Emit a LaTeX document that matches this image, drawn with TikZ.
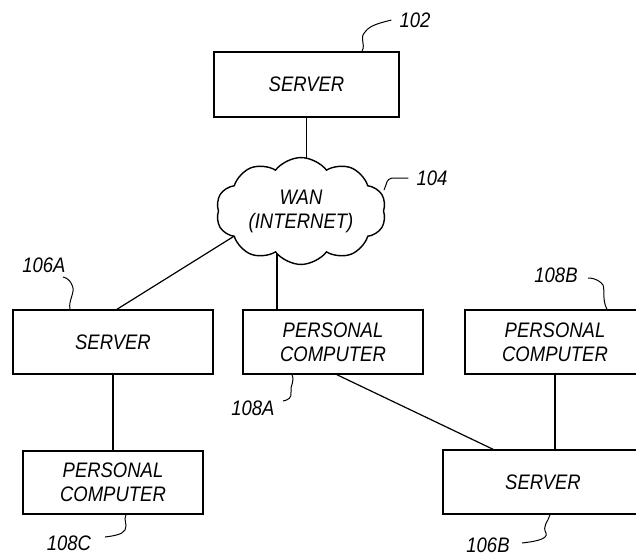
\documentclass[tikz,border=0pt]{standalone}
\usepackage{fontspec}
\setmainfont{Liberation Sans}[FakeStretch=0.88]
\usetikzlibrary{shapes.symbols}
\pgfdeclarelayer{background}
\pgfsetlayers{background,main}
\begin{document}
\begin{tikzpicture}[x=1pt,y=-1pt,
  every node/.style={font=\fontsize{21}{24}\selectfont\itshape},
  box/.style={draw,line width=1.5pt,align=center,inner sep=0pt},
  link/.style={line width=1.2pt},
  lead/.style={line width=1pt},
  lbl/.style={inner sep=0pt}]
\useasboundingbox (0,0) rectangle (636,558);
\clip (0,0) rectangle (636,558);
% boxes
\node[box,minimum width=185pt,minimum height=65pt] (s102) at (306.5,84.5) {SERVER};
\node[box,minimum width=200pt,minimum height=64pt] (s106A) at (113,342) {SERVER};
\node[box,minimum width=180pt,minimum height=64pt] (pc108A) at (333,342) {PERSONAL\\COMPUTER};
\node[box,minimum width=180pt,minimum height=64pt] (pc108B) at (555,342) {PERSONAL\\COMPUTER};
\node[box,minimum width=180pt,minimum height=63pt] (pc108C) at (113,482.5) {PERSONAL\\COMPUTER};
\node[box,minimum width=200pt,minimum height=64pt] (s106B) at (543,482) {SERVER};
% cloud
\node[cloud,draw,fill=white,line width=1.4pt,cloud puffs=10,cloud puff arc=105,aspect=1.67,
      minimum width=170pt,minimum height=100pt,inner sep=0pt,align=center] (wan) at (301,211) {WAN\\(INTERNET)};
\coordinate (c106A) at (260,220);
% connectors
\begin{pgfonlayer}{background}
\draw[link] (s102.south) -- (s102.south |- wan.center);
\draw[link] ([xshift=4pt]s106A.north) -- (c106A);
\draw[link] ([xshift=-56pt]pc108A.north) -- ([xshift=-56pt]pc108A.north |- wan.center);
\end{pgfonlayer}
\draw[link] (s106A.south) -- (pc108C.north);
\draw[link] ([xshift=4pt]pc108A.south) -- ([xshift=-50pt]s106B.north);
\draw[link] (pc108B.south) -- (pc108B.south |- s106B.north);
% labels
\node[lbl] (l102) at (415,20) {102};
\node[lbl] (l104) at (432,178) {104};
\node[lbl] (l106A) at (44,265) {106A};
\node[lbl] (l108A) at (253,408) {108A};
\node[lbl] (l108B) at (556,275) {108B};
\node[lbl] (l108C) at (69,543) {108C};
\node[lbl] (l106B) at (488,545) {106B};
% leaders
\draw[lead] ([xshift=55.5pt]s102.north) .. controls (366,44) and (359,38) .. (365,32) .. controls (370,25) and (380,23) .. ([xshift=-8pt]l102.west);
\draw[lead] (384,190) .. controls (387,184) and (386,179) .. (392,178) -- ([xshift=-8pt]l104.west);
\draw[lead] ([xshift=-43pt]s106A.north) .. controls (68,300) and (76,292) .. (72,285) .. controls (70,280) and (67,278) .. (63,277);
\draw[lead] ([xshift=-41pt]pc108A.south) .. controls (295,382) and (290,385) .. (291,392) .. controls (292,398) and (288,400) .. (283,401);
\draw[lead] (588,278) .. controls (596,278) and (601,282) .. (603,285) .. controls (605,290) and (602,300) .. ([xshift=52pt]pc108B.north);
\draw[lead] ([xshift=13pt]pc108C.south) .. controls (123,520) and (128,524) .. (125,530) .. controls (122,535) and (112,536) .. (105,537);
\draw[lead] ([xshift=7pt]s106B.south) .. controls (548,522) and (542,526) .. (546,533) .. controls (549,540) and (530,542) .. (522,543);
\end{tikzpicture}
\end{document}
